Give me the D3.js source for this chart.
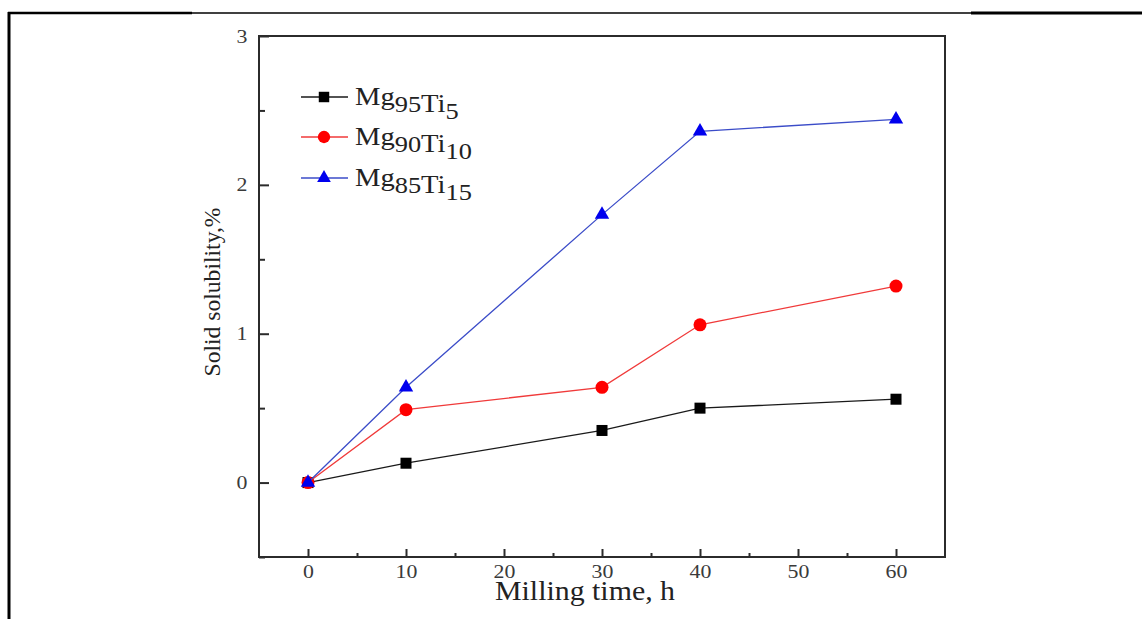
<!DOCTYPE html>
<html>
<head>
<meta charset="utf-8">
<script src="https://cdn.jsdelivr.net/npm/d3@7"></script>
<style>
  html, body { margin: 0; padding: 0; background: #fff; }
  svg { display: block; }
  text { font-family: "Liberation Serif", "Times New Roman", serif; }
</style>
</head>
<body>
<svg id="chart" width="1142" height="619"></svg>
<script>
// Milling time (h) at which solid solubility was measured
const millingTime = [0, 10, 30, 40, 60];

// Solid solubility (%) for each alloy
const mg95ti5  = [0, 0.13, 0.35, 0.50, 0.56];
const mg90ti10 = [0, 0.49, 0.64, 1.06, 1.32];
const mg85ti15 = [0, 0.64, 1.80, 2.36, 2.44];

// Legend labels: base text, subscript pairs
const seriesNames = [
  [["Mg", "95"], ["Ti", "5"]],
  [["Mg", "90"], ["Ti", "10"]],
  [["Mg", "85"], ["Ti", "15"]]
];

const xTicks = [0, 10, 20, 30, 40, 50, 60];
const xMinorTicks = [5, 15, 25, 35, 45, 55];
const yTicks = [0, 1, 2, 3];
const yMinorTicks = [-0.5, 0.5, 1.5, 2.5];

const xTitle = "Milling time, h";
const yTitle = "Solid solubility,%";

const series = [
  { values: mg95ti5,  line: "#1a1a1a", fill: "#000000", shape: "square" },
  { values: mg90ti10, line: "#f03a3a", fill: "#ff0000", shape: "circle" },
  { values: mg85ti15, line: "#3b4cc8", fill: "#0000ee", shape: "triangle" }
];

const svg = d3.select("#chart");

// Page rules around the figure
svg.append("line").attr("x1", 8).attr("x2", 192).attr("y1", 13).attr("y2", 13)
  .attr("stroke", "#000").attr("stroke-width", 2.5);
svg.append("line").attr("x1", 192).attr("x2", 971).attr("y1", 13).attr("y2", 13)
  .attr("stroke", "#000").attr("stroke-width", 1.3);
svg.append("line").attr("x1", 971).attr("x2", 1142).attr("y1", 13).attr("y2", 13)
  .attr("stroke", "#000").attr("stroke-width", 3);
svg.append("line").attr("x1", 9).attr("x2", 9).attr("y1", 12).attr("y2", 619)
  .attr("stroke", "#000").attr("stroke-width", 3);

const plotLeft = 259, plotRight = 945, plotTop = 36, plotBottom = 557;

const x = d3.scaleLinear().domain([-5, 65]).range([plotLeft, plotRight]);
const y = d3.scaleLinear().domain([-0.5, 3]).range([plotBottom, plotTop]);

const frameColor = "#2b2b2b";
const labelColor = "#3a3a3a";
const intFmt = d3.format("d");

// Bottom axis: inward ticks
const xAxis = svg.append("g").attr("transform", `translate(0,${plotBottom})`)
  .call(d3.axisBottom(x).tickValues(xTicks).tickFormat(intFmt)
    .tickSizeInner(-8).tickSizeOuter(0).tickPadding(8))
  .call(g => g.select(".domain").remove());
xAxis.selectAll(".tick line").attr("stroke", frameColor).attr("stroke-width", 2);
xAxis.selectAll(".tick text")
  .attr("font-size", 19).attr("fill", labelColor)
  .attr("font-family", "Liberation Serif")
  .attr("transform", "scale(1.15,1)");

const xMinor = svg.append("g").attr("transform", `translate(0,${plotBottom})`)
  .call(d3.axisBottom(x).tickValues(xMinorTicks).tickSizeInner(-4).tickSizeOuter(0).tickFormat(""))
  .call(g => g.select(".domain").remove());
xMinor.selectAll(".tick line").attr("stroke", frameColor).attr("stroke-width", 2);

// Left axis: inward ticks
const yAxis = svg.append("g").attr("transform", `translate(${plotLeft},0)`)
  .call(d3.axisLeft(y).tickValues(yTicks).tickFormat(intFmt)
    .tickSizeInner(-10).tickSizeOuter(0).tickPadding(10))
  .call(g => g.select(".domain").remove());
yAxis.selectAll(".tick line").attr("stroke", frameColor).attr("stroke-width", 2);
yAxis.selectAll(".tick text")
  .attr("font-size", 19).attr("fill", labelColor)
  .attr("font-family", "Liberation Serif")
  .attr("transform", "scale(1.15,1)");

const yMinor = svg.append("g").attr("transform", `translate(${plotLeft},0)`)
  .call(d3.axisLeft(y).tickValues(yMinorTicks).tickSizeInner(-6).tickSizeOuter(0).tickFormat(""))
  .call(g => g.select(".domain").remove());
yMinor.selectAll(".tick line").attr("stroke", frameColor).attr("stroke-width", 2);

// Plot frame
svg.append("rect")
  .attr("x", plotLeft).attr("y", plotTop)
  .attr("width", plotRight - plotLeft).attr("height", plotBottom - plotTop)
  .attr("fill", "none").attr("stroke", frameColor).attr("stroke-width", 2);

// Axis titles
svg.append("text")
  .attr("x", 585).attr("y", 600)
  .attr("text-anchor", "middle")
  .attr("font-size", 28).attr("fill", "#222")
  .attr("textLength", 180).attr("lengthAdjust", "spacingAndGlyphs")
  .text(xTitle);

svg.append("text")
  .attr("transform", "translate(220,292) rotate(-90)")
  .attr("text-anchor", "middle")
  .attr("font-size", 23).attr("fill", "#222")
  .attr("textLength", 169).attr("lengthAdjust", "spacingAndGlyphs")
  .text(yTitle);

// Marker drawing
function drawMarker(g, shape, fill, cx, cy, scale) {
  if (shape === "square") {
    const s = 11 * scale;
    g.append("rect").attr("x", cx - s / 2).attr("y", cy - s / 2)
      .attr("width", s).attr("height", s).attr("fill", fill);
  } else if (shape === "circle") {
    g.append("circle").attr("cx", cx).attr("cy", cy).attr("r", 6.5 * scale).attr("fill", fill);
  } else {
    g.append("path")
      .attr("d", d3.symbol().type(d3.symbolTriangle).size(90 * scale * scale)())
      .attr("transform", `translate(${cx},${cy})`)
      .attr("fill", fill);
  }
}

const line = d3.line().x(d => x(d[0])).y(d => y(d[1]));

series.forEach(s => {
  const pts = millingTime.map((t, i) => [t, s.values[i]]);
  svg.append("path").datum(pts)
    .attr("d", line)
    .attr("fill", "none").attr("stroke", s.line).attr("stroke-width", 1.3);
  const g = svg.append("g");
  pts.forEach(p => drawMarker(g, s.shape, s.fill, x(p[0]), y(p[1]), 1));
});

// Legend
const legendRows = [97, 137, 178];
series.forEach((s, i) => {
  const ly = legendRows[i];
  svg.append("line").attr("x1", 301).attr("x2", 348).attr("y1", ly).attr("y2", ly)
    .attr("stroke", s.line).attr("stroke-width", 1.3);
  drawMarker(svg.append("g"), s.shape, s.fill, 324, ly, 0.95);

  const t = svg.append("text")
    .attr("transform", `translate(355,${ly + 8}) scale(1.1,1)`)
    .attr("font-size", 26).attr("fill", "#222");
  seriesNames[i].forEach(([base, sub]) => {
    t.append("tspan").attr("dy", 0).text(base);
    t.append("tspan").attr("font-size", 24).attr("dy", 7).text(sub);
    t.append("tspan").attr("dy", -7).text("");
  });
});
</script>
</body>
</html>
